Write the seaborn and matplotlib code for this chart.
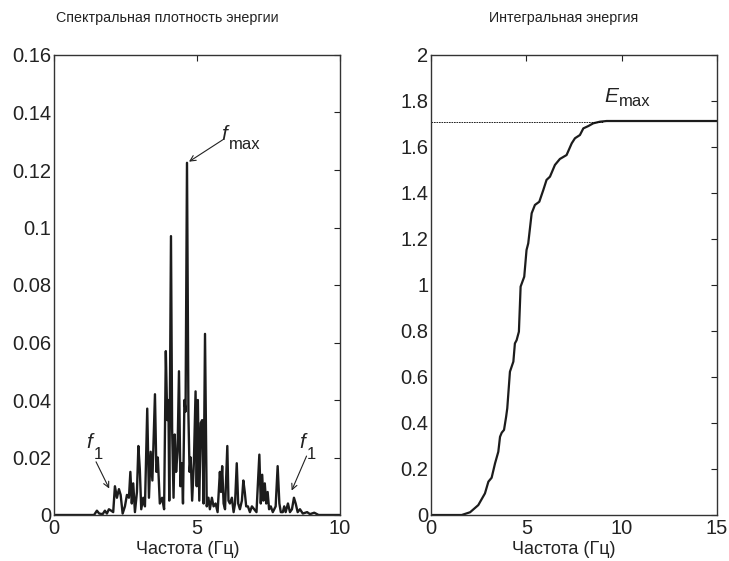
import matplotlib
matplotlib.use("Agg")
import matplotlib.pyplot as plt
from matplotlib import font_manager
import seaborn as sns
import pandas as pd

# ---- data: spectral energy density ----
freq = [0.0, 1.40, 1.50, 1.58, 1.70, 1.78, 1.85, 1.92, 2.00, 2.07, 2.13, 2.20, 2.27, 2.33,
        2.40, 2.48, 2.55, 2.62, 2.67, 2.72, 2.77, 2.83, 2.90, 2.95, 3.00, 3.05, 3.12, 3.18,
        3.26, 3.32, 3.38, 3.44, 3.53, 3.58, 3.63, 3.70, 3.78, 3.85, 3.91, 3.96, 4.00, 4.03,
        4.09, 4.13, 4.18, 4.22, 4.27, 4.32, 4.37, 4.42, 4.47, 4.51, 4.56, 4.60, 4.65, 4.70,
        4.74, 4.78, 4.83, 4.89, 4.95, 4.99, 5.03, 5.08, 5.13, 5.18, 5.23, 5.28, 5.34, 5.40,
        5.45, 5.52, 5.58, 5.65, 5.72, 5.80, 5.84, 5.88, 5.93, 5.98, 6.06, 6.10, 6.15, 6.22,
        6.28, 6.33, 6.39, 6.44, 6.50, 6.57, 6.62, 6.67, 6.72, 6.78, 6.85, 6.92, 7.00, 7.08,
        7.18, 7.23, 7.28, 7.32, 7.37, 7.42, 7.47, 7.52, 7.58, 7.65, 7.75, 7.82, 7.88, 7.93,
        8.00, 8.05, 8.10, 8.18, 8.25, 8.32, 8.39, 8.45, 8.52, 8.60, 8.70, 8.85, 8.95, 9.10,
        9.25, 10.0]
psd = [0, 0, 0.0015, 0.0005, 0.0003, 0.0015, 0.0005, 0.002, 0.0015, 0.001, 0.010, 0.006,
       0.009, 0.007, 0.0005, 0.003, 0.007, 0.006, 0.015, 0.004, 0.011, 0.001, 0.008, 0.024,
       0.016, 0.002, 0.006, 0.003, 0.037, 0.006, 0.022, 0.012, 0.042, 0.015, 0.020, 0.004,
       0.006, 0.002, 0.057, 0.033, 0.040, 0.005, 0.097, 0.030, 0.006, 0.028, 0.015, 0.022,
       0.050, 0.010, 0.018, 0.004, 0.040, 0.036, 0.1225, 0.035, 0.015, 0.020, 0.005, 0.018,
       0.043, 0.010, 0.040, 0.005, 0.032, 0.033, 0.004, 0.063, 0.003, 0.006, 0.002, 0.006,
       0.003, 0.004, 0.001, 0.015, 0.008, 0.017, 0.004, 0.002, 0.024, 0.005, 0.004, 0.006,
       0.001, 0.004, 0.018, 0.004, 0.002, 0.005, 0.012, 0.008, 0.003, 0.003, 0.001, 0.003,
       0.002, 0.001, 0.021, 0.004, 0.014, 0.005, 0.011, 0.004, 0.008, 0.002, 0.003, 0.001,
       0.003, 0.017, 0.004, 0.001, 0.001, 0.003, 0.001, 0.004, 0.001, 0.002, 0.006, 0.004,
       0.001, 0.002, 0.0005, 0.001, 0.0003, 0.0008, 0, 0]

# ---- data: integral energy ----
freq_cum = [0, 1.61, 2.05, 2.48, 2.83, 3.01, 3.18, 3.36, 3.53, 3.62, 3.71, 3.83, 3.94, 4.00,
            4.14, 4.32, 4.40, 4.49, 4.61, 4.70, 4.89, 5.01, 5.10, 5.28, 5.45, 5.68, 5.89,
            6.06, 6.24, 6.50, 6.76, 7.11, 7.38, 7.55, 7.81, 7.99, 8.25, 8.51, 8.86, 9.21, 15.0]
energy = [0, 0, 0.012, 0.043, 0.094, 0.145, 0.162, 0.225, 0.275, 0.34, 0.358, 0.37, 0.427,
          0.464, 0.623, 0.667, 0.746, 0.76, 0.797, 0.993, 1.036, 1.152, 1.181, 1.312, 1.348,
          1.362, 1.413, 1.457, 1.471, 1.522, 1.548, 1.565, 1.616, 1.638, 1.652, 1.681, 1.691,
          1.703, 1.710, 1.713, 1.713]
e_max = 1.71

left_xticks = [0, 5, 10]
left_yticks = [0, 0.02, 0.04, 0.06, 0.08, 0.1, 0.12, 0.14, 0.16]
left_yticklabels = ["0", "0.02", "0.04", "0.06", "0.08", "0.1", "0.12", "0.14", "0.16"]
right_xticks = [0, 5, 10, 15]
right_yticks = [0, 0.2, 0.4, 0.6, 0.8, 1.0, 1.2, 1.4, 1.6, 1.8, 2.0]
right_yticklabels = ["0", "0.2", "0.4", "0.6", "0.8", "1", "1.2", "1.4", "1.6", "1.8", "2"]

title_left = "Спектральная плотность энергии"
title_right = "Интегральная энергия"
xlabel = "Частота (Гц)"

sns.set_style("white")
plt.rcParams["font.family"] = ["Liberation Sans", "DejaVu Sans"]
plt.rcParams["mathtext.fontset"] = "custom"
plt.rcParams["mathtext.it"] = "Liberation Sans:italic"
plt.rcParams["mathtext.rm"] = "Liberation Sans"

installed = {f.name for f in font_manager.fontManager.ttflist}
if "Liberation Sans Narrow" in installed:
    title_family, title_size = ["Liberation Sans Narrow", "DejaVu Sans"], 12.5
else:
    title_family, title_size = ["Liberation Sans", "DejaVu Sans"], 10.3

W, H = 729, 561
fig = plt.figure(figsize=(W / 100, H / 100), dpi=100)
ax1 = fig.add_axes([54 / W, 1 - 515 / H, 286 / W, 460 / H])
ax2 = fig.add_axes([431 / W, 1 - 515 / H, 286 / W, 460 / H])

line_col = "#1c1c1c"
df1 = pd.DataFrame({"f": freq, "p": psd})
df2 = pd.DataFrame({"f": freq_cum, "e": energy})
sns.lineplot(data=df1, x="f", y="p", ax=ax1, color=line_col, lw=1.7, estimator=None, sort=False)
sns.lineplot(data=df2, x="f", y="e", ax=ax2, color=line_col, lw=1.6, estimator=None, sort=False)

ax2.plot([0, 9.0], [e_max, e_max], color="black", lw=0.6, ls=(0, (2, 1)))

for ax in (ax1, ax2):
    ax.set_xlabel("")
    ax.set_ylabel("")
    ax.tick_params(direction="in", length=4, width=0.8, top=True, right=True,
                   labelsize=14.5, colors="#222222")
    ax.tick_params(axis="y", pad=2)
    ax.tick_params(axis="x", pad=3)
    for s in ax.spines.values():
        s.set_color("#333333")
        s.set_linewidth(1.0)

ax1.set_xlim(0, 10)
ax1.set_ylim(0, 0.16)
ax1.set_xticks(left_xticks)
ax1.set_xticklabels([str(t) for t in left_xticks])
ax1.set_yticks(left_yticks)
ax1.set_yticklabels(left_yticklabels)

ax2.set_xlim(0, 15)
ax2.set_ylim(0, 2)
ax2.set_xticks(right_xticks)
ax2.set_xticklabels([str(t) for t in right_xticks])
ax2.set_yticks(right_yticks)
ax2.set_yticklabels(right_yticklabels)

# titles and x labels
fig.text(167 / W, 1 - 18 / H, title_left, ha="center", va="center", fontsize=title_size,
         family=title_family, color="#222222")
fig.text(564 / W, 1 - 18 / H, title_right, ha="center", va="center", fontsize=title_size,
         family=title_family, color="#222222")
fig.text(188 / W, 1 - 550 / H, xlabel, ha="center", va="center", fontsize=13, color="#222222")
fig.text(564 / W, 1 - 550 / H, xlabel, ha="center", va="center", fontsize=13, color="#222222")

# annotations
tc = "#222222"
arrow = dict(arrowstyle="->", color=tc, lw=0.8, shrinkA=0, shrinkB=0)
ax1.annotate("", xy=(4.72, 0.1229), xytext=(5.90, 0.1305), arrowprops=arrow)
ax1.text(5.85, 0.1304, r"$f$", fontsize=15, ha="left", va="baseline", color=tc)
ax1.text(6.12, 0.129, "max", fontsize=12, ha="left", va="center", color=tc)

ax1.annotate("", xy=(1.93, 0.0092), xytext=(1.47, 0.0185), arrowprops=arrow)
ax1.text(1.12, 0.0233, r"$f$", fontsize=15, ha="left", va="baseline", color=tc)
ax1.text(1.40, 0.0212, "1", fontsize=12, ha="left", va="center", color=tc)

ax1.annotate("", xy=(8.31, 0.0085), xytext=(8.83, 0.0205), arrowprops=arrow)
ax1.text(8.58, 0.0233, r"$f$", fontsize=15, ha="left", va="baseline", color=tc)
ax1.text(8.84, 0.0212, "1", fontsize=12, ha="left", va="center", color=tc)

ax2.text(9.05, 1.796, r"$E$", fontsize=15, ha="left", va="baseline", color=tc)
ax2.text(9.85, 1.796, "max", fontsize=12, ha="left", va="center", color=tc)

fig.savefig("out.png", dpi=100)
